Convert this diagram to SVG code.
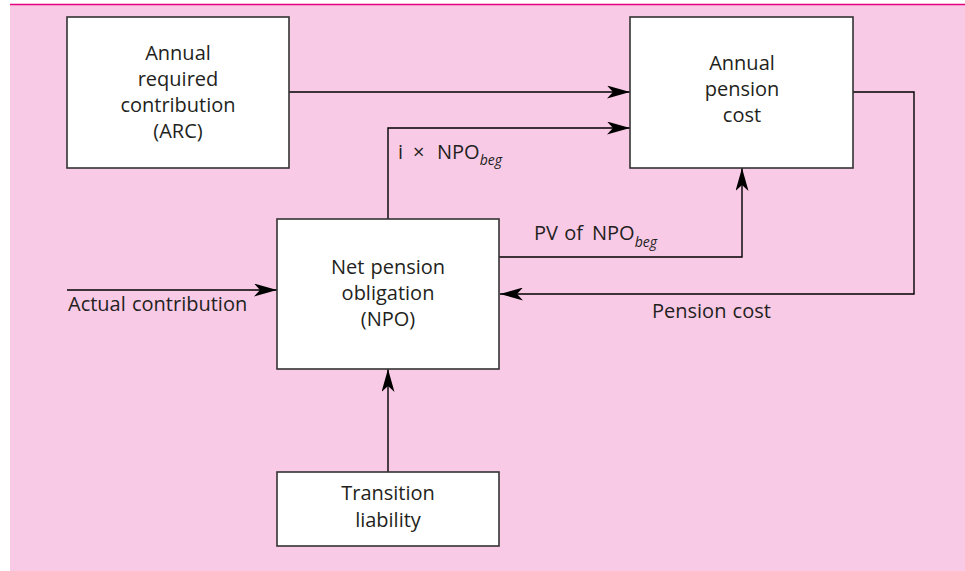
<svg xmlns="http://www.w3.org/2000/svg" width="965" height="571" viewBox="0 0 965 571">
  <style>
    .box { fill: #ffffff; stroke: #333333; stroke-width: 1.6; }
    .lbl { font-family: "Open Sans", "Noto Sans", "DejaVu Sans", sans-serif; font-size: 20px; fill: #231f20; word-spacing: 1px; }
    .mid { text-anchor: middle; }
    .sub { font-style: italic; font-size: 14px; }
    .wire { fill: none; stroke: #000000; stroke-width: 1.4; marker-end: url(#head); }
  </style>
  <defs>
    <marker id="head" viewBox="0 0 23 13" refX="23" refY="6.5" markerWidth="23" markerHeight="13" orient="auto" markerUnits="userSpaceOnUse">
      <path d="M0,0 L23,6.5 L0,13 L6,6.5 Z" fill="#000000"/>
    </marker>
  </defs>

  <!-- panel background and top rule -->
  <rect x="10" y="5" width="955" height="566" fill="#f9cae6"/>
  <line x1="10" y1="4.5" x2="965" y2="4.5" stroke="#e5007d" stroke-width="1.6"/>

  <!-- connectors -->
  <g id="connectors">
    <path class="wire" d="M289,92 H630"/>
    <path class="wire" d="M388,219 V128 H630"/>
    <path class="wire" d="M499,257 H742 V168"/>
    <path class="wire" d="M853,92 H914 V294 H500"/>
    <path class="wire" d="M67,290 H277"/>
    <path class="wire" d="M388,472 V369"/>
    <text class="lbl" y="159"><tspan x="398">i</tspan><tspan x="413">×</tspan><tspan x="437">NPO</tspan><tspan class="sub" dy="6">beg</tspan></text>
    <text class="lbl" y="240"><tspan x="534">PV of</tspan><tspan x="592">NPO</tspan><tspan class="sub" dy="7">beg</tspan></text>
    <text class="lbl" x="68" y="311">Actual contribution</text>
    <text class="lbl" x="652" y="318">Pension cost</text>
  </g>

  <g id="arc">
    <rect class="box" x="67" y="17" width="222" height="151"/>
    <text class="lbl mid" x="178" y="60">Annual</text>
    <text class="lbl mid" x="178" y="86">required</text>
    <text class="lbl mid" x="178" y="112">contribution</text>
    <text class="lbl mid" x="178" y="138">(ARC)</text>
  </g>

  <g id="apc">
    <rect class="box" x="630" y="17" width="223" height="151"/>
    <text class="lbl mid" x="742" y="70">Annual</text>
    <text class="lbl mid" x="742" y="96">pension</text>
    <text class="lbl mid" x="742" y="122">cost</text>
  </g>

  <g id="npo">
    <rect class="box" x="277" y="219" width="222" height="150"/>
    <text class="lbl mid" x="388" y="274">Net pension</text>
    <text class="lbl mid" x="388" y="300">obligation</text>
    <text class="lbl mid" x="388" y="326">(NPO)</text>
  </g>

  <g id="transition">
    <rect class="box" x="277" y="472" width="222" height="74"/>
    <text class="lbl mid" x="388" y="500">Transition</text>
    <text class="lbl mid" x="388" y="527">liability</text>
  </g>
</svg>
